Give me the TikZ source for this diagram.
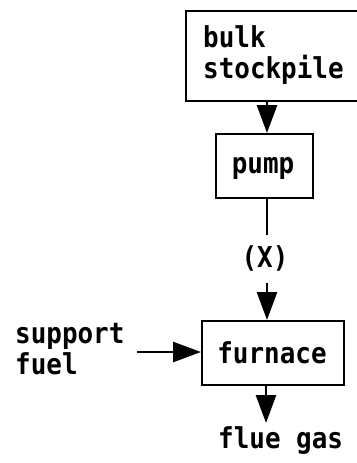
\documentclass[tikz,border=0pt]{standalone}
\usepackage{fontspec}
\newfontfamily\monofont{DejaVu Sans Mono}[FakeStretch=0.9]
\usetikzlibrary{arrows.meta}
\tikzset{
  box/.style={draw, line width=2.2pt, inner sep=0pt},
  lbl/.style={font=\monofont\bfseries\fontsize{28.8}{31}\selectfont, inner sep=0pt, align=left},
  flow/.style={line width=2.8pt, -{Triangle[length=28pt,width=20pt]}},
  plain/.style={line width=2.8pt}
}
\begin{document}
\begin{tikzpicture}[x=1pt,y=-1pt]
\useasboundingbox (0,0) rectangle (356,463);
\coordinate (axis) at (267,0);
% boxes
\node[box, minimum width=190pt, minimum height=90pt, anchor=north west] (bulk) at (185,10) {};
\node[box, minimum width=97pt, minimum height=64pt, anchor=north west] (pump) at (215,133) {};
\node[box, minimum width=142pt, minimum height=64pt, anchor=north west] (furnace) at (201,320) {};
% texts
\node[lbl, anchor=base west] (bulktxt) at (203,78) {bulk\\stockpile};
\node[lbl, anchor=base] (pumptxt) at (263,173) {pump};
\node[lbl, anchor=base] (furntxt) at (272,363) {furnace};
\node[lbl, anchor=base] (xlbl) at (265,267) {(X)};
\node[lbl, anchor=base west] (suptxt) at (15,374) {support\\fuel};
\node[lbl, anchor=base west] (flue) at (218,448) {flue gas};
% free ends
\coordinate (xtop) at (267,235);
\coordinate (xbot) at (267,283);
\coordinate (sfstart) at (137,352);
\coordinate (fluetip) at (266,423);
% connectors
\draw[flow] (bulk.south -| axis) -- (pump.north -| axis);
\draw[plain] (pump.south -| axis) -- (xtop);
\draw[flow] (xbot) -- (furnace.north -| axis);
\draw[flow] (sfstart) -- (sfstart -| furnace.west);
\draw[flow] (furnace.south -| fluetip) -- (fluetip);
\end{tikzpicture}
\end{document}
